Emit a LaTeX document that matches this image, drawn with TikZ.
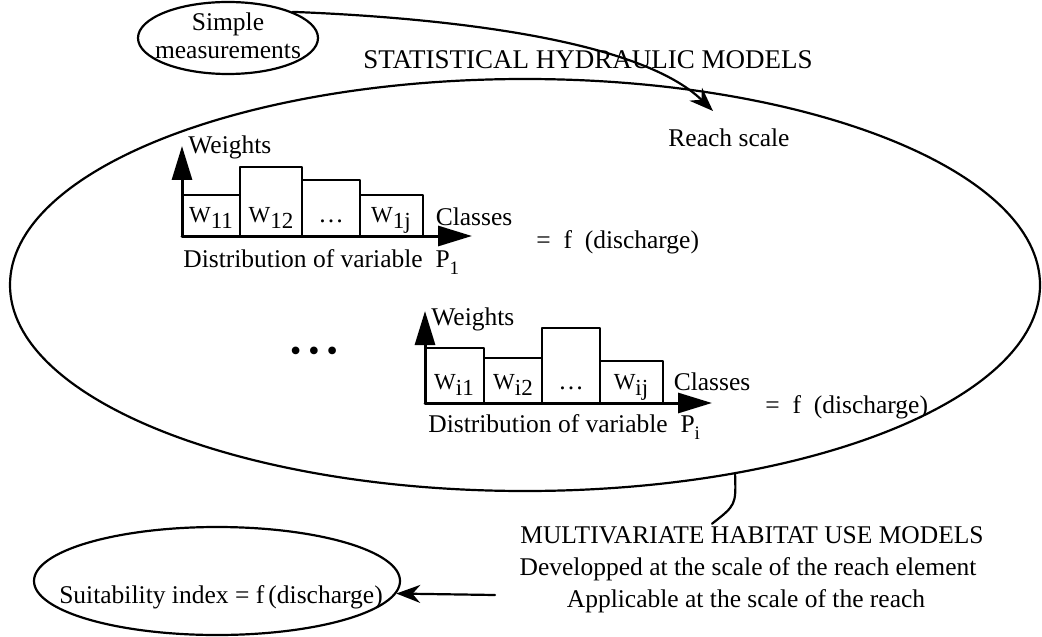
\documentclass[tikz,border=0pt]{standalone}
\usepackage{fontspec}
\setmainfont{Liberation Serif}
\usetikzlibrary{shapes.geometric,arrows.meta}
\newcommand{\wlab}[1]{{\fontsize{11.5}{12}\selectfont W\raisebox{-3pt}{#1}}}
\newcommand{\plab}[1]{P\raisebox{-3.5pt}{\fontsize{9.5}{10}\selectfont #1}}
\begin{document}
\begin{tikzpicture}[x=0.5pt,y=-0.5pt,line cap=round,line join=round,
  every node/.style={inner sep=1pt,font=\fontsize{12.75}{16}\selectfont},
  blob/.style={ellipse,draw,line width=1.1pt,inner sep=0pt},
  bar/.style={line width=1.2pt},
  axis/.style={line width=1.5pt,-{Triangle[length=17pt,width=10pt]}},
  link/.style={line width=1.1pt,-{Stealth[length=12pt,width=9pt]}}]
  \useasboundingbox (0,0) rectangle (1042,636);
  % the two kinds of model
  \node[blob,minimum width=90pt,minimum height=36pt] (simple) at (228,38) {};
  \node[align=center,font=\fontsize{12.75}{14}\selectfont] (simpletext) at (228,36) {Simple\\measurements};
  \node[blob,minimum width=515pt,minimum height=206pt] (hab) at (525,285) {};
  \node[font=\fontsize{13.5}{16}\selectfont] (stat) at (588,60) {STATISTICAL HYDRAULIC MODELS};
  \node (reach) at (729,138) {Reach scale};
  \coordinate (hit) at (713,111);
  \draw[link] (simple.22) .. controls (450,18) and (640,40) .. (hit);
  % variable P1
  \begin{scope}[shift={(182,236)}]
    \foreach \xa/\xb/\yt in {0/58/-41,58/120/-69,120/178/-56,178/241/-41}
      \draw[bar] (\xa,0) rectangle (\xb,\yt);
    \draw[axis] (0,0) -- (0,-90);
    \draw[axis] (0,0) -- (290,0);
    \node[anchor=base] (w11) at (29,-14) {\wlab{11}};
    \node[anchor=base] (w12) at (89,-14) {\wlab{12}};
    \node[anchor=base] (wd1) at (149,-14) {\dots};
    \node[anchor=base] (w1j) at (209,-14) {\wlab{1j}};
    \node[anchor=base west] (wt1) at (4,-82) {Weights};
    \node[anchor=base] (cls1) at (292,-11) {Classes};
    \node[anchor=base west] (eq1) at (352,13) {=\enspace f\enspace (discharge)};
    \node[anchor=base west] (dist1) at (-1,31) {Distribution of variable\enspace\plab{1}};
  \end{scope}
  \node[font=\fontsize{16}{16}\selectfont] (dots) at (314,354)
    {\textbullet\hspace{3.5pt}\textbullet\hspace{3.5pt}\textbullet};
  % variable Pi
  \begin{scope}[shift={(425,403)}]
    \foreach \xa/\xb/\yt in {0/59/-55,59/117/-45,117/175/-75,175/238/-42}
      \draw[bar] (\xa,0) rectangle (\xb,\yt);
    \draw[axis] (0,0) -- (0,-92);
    \draw[axis] (0,0) -- (287,0);
    \node[anchor=base] (wi1) at (29,-14) {\wlab{i1}};
    \node[anchor=base] (wi2) at (88,-14) {\wlab{i2}};
    \node[anchor=base] (wdi) at (146,-14) {\dots};
    \node[anchor=base] (wij) at (206,-14) {\wlab{ij}};
    \node[anchor=base west] (wti) at (4,-78) {Weights};
    \node[anchor=base] (clsi) at (287,-13) {Classes};
    \node[anchor=base west] (eqi) at (338,10) {=\enspace f\enspace (discharge)};
    \node[anchor=base west] (disti) at (1,29) {Distribution of variable\enspace\plab{i}};
  \end{scope}
  % habitat use models
  \node[anchor=base] (multi) at (752,543) {MULTIVARIATE HABITAT USE MODELS};
  \node[anchor=base] (devel) at (748,575) {Developped at the scale of the reach element};
  \node[anchor=base] (appl) at (746,607) {Applicable at the scale of the reach};
  \draw[line width=1.1pt] (hab.-42) .. controls (736,505) .. ([xshift=-20pt]multi.north);
  \node[blob,minimum width=183pt,minimum height=54pt] (suit) at (217,581) {};
  \node[anchor=base] (suittext) at (221,603) {Suitability index = f\,(discharge)};
  \coordinate (multiend) at (495,595);
  \draw[link] (multiend) -- (suit.-4);
\end{tikzpicture}
\end{document}
